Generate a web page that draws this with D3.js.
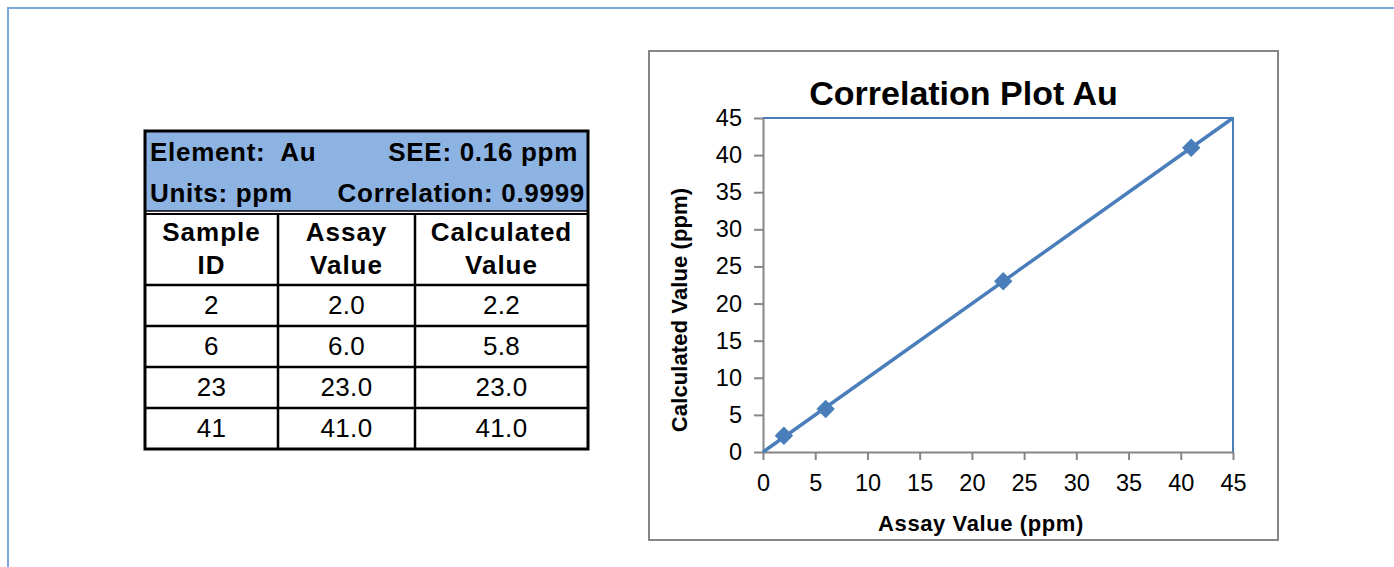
<!DOCTYPE html>
<html>
<head>
<meta charset="utf-8">
<script src="https://cdn.jsdelivr.net/npm/d3@7"></script>
<style>
  html, body { margin: 0; padding: 0; background: #ffffff; }
  svg { display: block; }
  text { font-family: "Liberation Sans", Arial, Helvetica, sans-serif; }
</style>
</head>
<body>
<svg id="chart" width="1394" height="567"></svg>
<script>
// ---------------- data ----------------
const element = "Au";
const units = "ppm";
const seeText = "SEE: 0.16 ppm";
const correlationText = "Correlation: 0.9999";
const columnHeaders = [["Sample", "ID"], ["Assay", "Value"], ["Calculated", "Value"]];
const sampleIds = ["2", "6", "23", "41"];
const assayValues = [2.0, 6.0, 23.0, 41.0];
const calcValues = [2.2, 5.8, 23.0, 41.0];
const trendX = [0, 45];
const trendY = [0, 45];
const axisTicks = [0, 5, 10, 15, 20, 25, 30, 35, 40, 45];
const chartTitle = "Correlation Plot Au";
const xTitle = "Assay Value (ppm)";
const yTitle = "Calculated Value (ppm)";

// ---------------- layout ----------------
const svg = d3.select("#chart");
const blue = "#4a7ebb";
const grey = "#868686";

// outer frame (light blue, runs off the right and bottom)
svg.append("path")
  .attr("d", "M8,570 L8,8 L1400,8")
  .attr("fill", "none")
  .attr("stroke", "#7ba7dd")
  .attr("stroke-width", 2);

// ---------------- table ----------------
const tbl = svg.append("g");
const tX0 = 145, tX1 = 588, tY0 = 131;
const colEdges = [145, 278, 415, 588];
const headBlueBottom = 211;
const headRowTop = 214, headRowBottom = 285;
const rowH = 41;

tbl.append("rect").attr("x", tX0).attr("y", tY0)
  .attr("width", tX1 - tX0).attr("height", headBlueBottom - tY0)
  .attr("fill", "#8db3e2");

const rowTops = sampleIds.map((d, i) => headRowBottom + i * rowH);
const tBottom = headRowBottom + sampleIds.length * rowH;

// header text
const hdrStyle = sel => sel.attr("font-weight", "bold").attr("font-size", 26)
  .attr("letter-spacing", 0.7).attr("fill", "#000").style("white-space", "pre");
tbl.append("text").attr("x", 150).attr("y", 161).text("Element:  " + element).call(hdrStyle);
tbl.append("text").attr("x", 578).attr("y", 161).attr("text-anchor", "end").text(seeText).call(hdrStyle);
tbl.append("text").attr("x", 150).attr("y", 202).text("Units: " + units).call(hdrStyle);
tbl.append("text").attr("x", 585).attr("y", 202).attr("text-anchor", "end").text(correlationText).call(hdrStyle);

// column headers
columnHeaders.forEach((lines, c) => {
  const cx = (colEdges[c] + colEdges[c + 1]) / 2;
  lines.forEach((ln, k) => {
    tbl.append("text").attr("x", cx).attr("y", 241 + k * 33)
      .attr("text-anchor", "middle").attr("font-weight", "bold")
      .attr("font-size", 26).attr("letter-spacing", 1).text(ln);
  });
});

// body rows
const fmt = d3.format(".1f");
const rows = sampleIds.map((id, i) => [id, fmt(assayValues[i]), fmt(calcValues[i])]);
rows.forEach((r, i) => {
  r.forEach((v, c) => {
    const cx = (colEdges[c] + colEdges[c + 1]) / 2;
    tbl.append("text").attr("x", cx).attr("y", rowTops[i] + 29)
      .attr("text-anchor", "middle").attr("font-size", 26)
      .attr("letter-spacing", 0.3).text(v);
  });
});

// table lines
const lw = 2.5;
const hline = (y, w) => tbl.append("line").attr("x1", tX0).attr("x2", tX1)
  .attr("y1", y).attr("y2", y).attr("stroke", "#000").attr("stroke-width", w || lw);
hline(headBlueBottom, 1.5);
hline(headRowTop, 2);
rowTops.forEach(y => hline(y));
colEdges.slice(1, -1).forEach(x => tbl.append("line")
  .attr("x1", x).attr("x2", x).attr("y1", headRowTop).attr("y2", tBottom)
  .attr("stroke", "#000").attr("stroke-width", lw));
tbl.append("rect").attr("x", tX0).attr("y", tY0)
  .attr("width", tX1 - tX0).attr("height", tBottom - tY0)
  .attr("fill", "none").attr("stroke", "#000").attr("stroke-width", 3);

// ---------------- chart ----------------
const box = { x0: 649, y0: 51, x1: 1278, y1: 540 };
svg.append("rect").attr("x", box.x0).attr("y", box.y0)
  .attr("width", box.x1 - box.x0).attr("height", box.y1 - box.y0)
  .attr("fill", "#fff").attr("stroke", grey).attr("stroke-width", 2);

const plot = { left: 763, right: 1233, top: 118, bottom: 452 };
const x = d3.scaleLinear().domain([0, 45]).range([plot.left, plot.right]);
const y = d3.scaleLinear().domain([0, 45]).range([plot.bottom, plot.top]);

// plot area border (top & right, blue)
svg.append("path")
  .attr("d", `M${plot.left},${plot.top} L${plot.right},${plot.top} L${plot.right},${plot.bottom}`)
  .attr("fill", "none").attr("stroke", blue).attr("stroke-width", 2);

const styleAxis = g => {
  g.select(".domain").attr("stroke", grey).attr("stroke-width", 2);
  g.selectAll(".tick line").attr("stroke", grey).attr("stroke-width", 2);
  g.selectAll(".tick text").attr("fill", "#000").attr("font-size", 23.5)
    .attr("font-family", "'Liberation Sans', Arial, sans-serif");
};

svg.append("g").attr("transform", `translate(0,${plot.bottom})`)
  .call(d3.axisBottom(x).tickValues(axisTicks).tickSize(8).tickSizeOuter(0).tickPadding(14))
  .call(styleAxis);
svg.append("g").attr("transform", `translate(${plot.left},0)`)
  .call(d3.axisLeft(y).tickValues(axisTicks).tickSize(9).tickSizeOuter(0).tickPadding(12))
  .call(styleAxis);

// trend line
const line = d3.line().x(d => x(d[0])).y(d => y(d[1]));
svg.append("path").datum(trendX.map((v, i) => [v, trendY[i]]))
  .attr("d", line).attr("fill", "none")
  .attr("stroke", blue).attr("stroke-width", 3.5);

// markers (diamonds)
const diamond = d3.symbol().type(d3.symbolSquare).size(170);
svg.append("g").selectAll("path")
  .data(assayValues.map((v, i) => [v, calcValues[i]]))
  .join("path")
  .attr("d", diamond)
  .attr("transform", d => `translate(${x(d[0])},${y(d[1])}) rotate(45)`)
  .attr("fill", blue);

// titles
svg.append("text").attr("x", (box.x0 + box.x1) / 2).attr("y", 105)
  .attr("text-anchor", "middle").attr("font-weight", "bold")
  .attr("font-size", 34).text(chartTitle);
svg.append("text").attr("x", 981).attr("y", 531)
  .attr("text-anchor", "middle").attr("font-weight", "bold")
  .attr("font-size", 22).attr("letter-spacing", 0.6).text(xTitle);
svg.append("text").attr("transform", "translate(687,310) rotate(-90)")
  .attr("text-anchor", "middle").attr("font-weight", "bold")
  .attr("font-size", 22).attr("letter-spacing", 0.1).text(yTitle);
</script>
</body>
</html>
